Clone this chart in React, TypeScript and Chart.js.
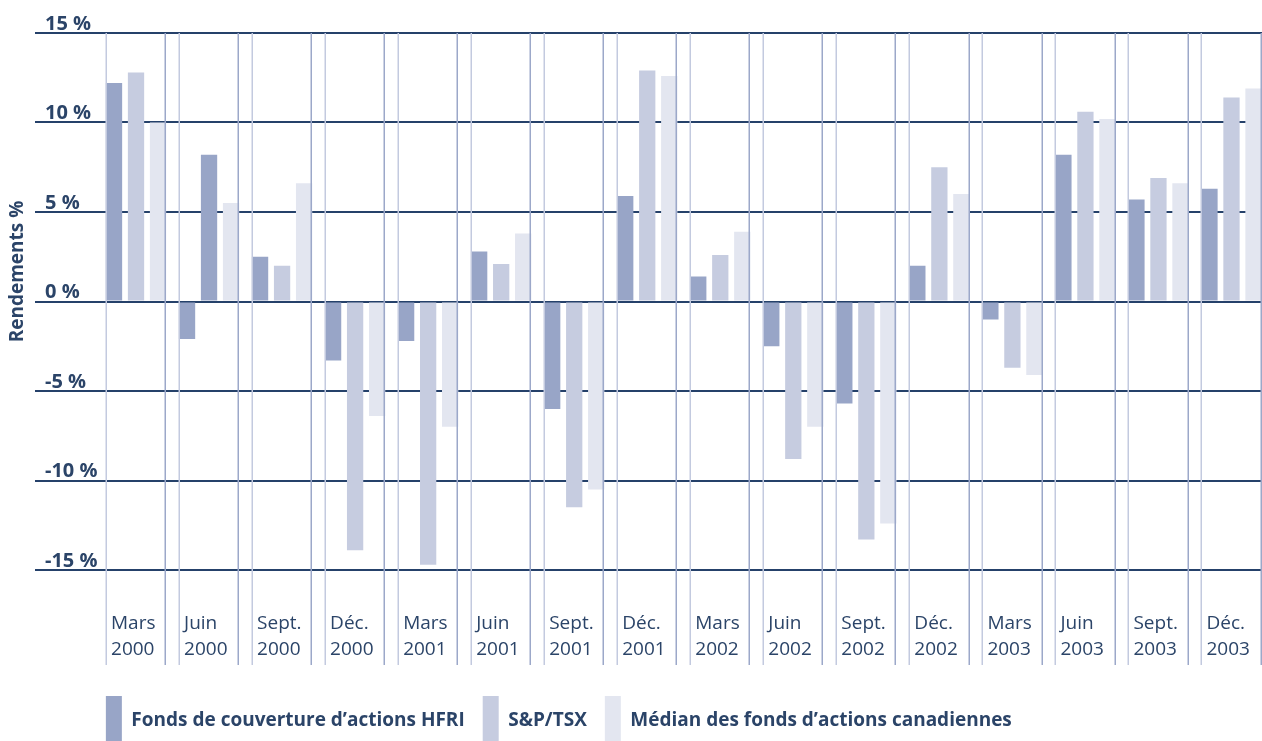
import React, { useEffect, useRef } from 'react';
import { Chart, registerables } from 'chart.js';

Chart.register(...registerables);

// ---- Data ----
const categories: string[][] = [
  ['Mars', '2000'], ['Juin', '2000'], ['Sept.', '2000'], ['Déc.', '2000'],
  ['Mars', '2001'], ['Juin', '2001'], ['Sept.', '2001'], ['Déc.', '2001'],
  ['Mars', '2002'], ['Juin', '2002'], ['Sept.', '2002'], ['Déc.', '2002'],
  ['Mars', '2003'], ['Juin', '2003'], ['Sept.', '2003'], ['Déc.', '2003'],
];
const seriesNames = [
  'Fonds de couverture d’actions HFRI',
  'S&P/TSX',
  'Médian des fonds d’actions canadiennes',
];
const hfri = [12.2, -2.1, 2.5, -3.3, -2.2, 2.8, -6.0, 5.9, 1.4, -2.5, -5.7, 2.0, -1.0, 8.2, 5.7, 6.3];
const sptsx = [12.8, 8.2, 2.0, -13.9, -14.7, 2.1, -11.5, 12.9, 2.6, -8.8, -13.3, 7.5, -3.7, 10.6, 6.9, 11.4];
const median = [10.0, 5.5, 6.6, -6.4, -7.0, 3.8, -10.5, 12.6, 3.9, -7.0, -12.4, 6.0, -4.1, 10.2, 6.6, 11.9];
const yTicks = [-15, -10, -5, 0, 5, 10, 15];
const axisTitle = 'Rendements %';

// ---- Styles ----
const NAVY = '#25416a';
const TEXT = '#2b4468';
const C1 = '#98a5c7';
const C2 = '#c6cce0';
const C3 = '#e3e6f0';
const LINE_LEFT = '#c3cadf';
const LINE_RIGHT = '#9ca8c9';
const FONT = 'Open Sans';
// In the reference the Juin 2000 S&P/TSX bar is drawn in the darker colour
const sptsxColors = sptsx.map((_, i) => (i === 1 ? C1 : C2));

const LEGEND_PAD = 18;

const decorPlugin = {
  id: 'decor',
  beforeDraw(chart: any) {
    const m0 = chart.getDatasetMeta(0);
    const b = m0.data[0];
    if (chart.legend && b) {
      chart.legend.left = b.x - b.width / 2 - LEGEND_PAD;
    }
  },
  afterDatasetsDraw(chart: any) {
    const { ctx, chartArea } = chart;
    const m0 = chart.getDatasetMeta(0);
    const m2 = chart.getDatasetMeta(2);
    ctx.save();
    ctx.lineWidth = 1.5;
    m0.data.forEach((bar: any, i: number) => {
      const last = m2.data[i];
      const l = Math.round(bar.x - bar.width / 2) + 0.25;
      const r = Math.round(last.x + last.width / 2) - 0.75;
      ctx.strokeStyle = LINE_LEFT;
      ctx.beginPath();
      ctx.moveTo(l, chartArea.top);
      ctx.lineTo(l, chartArea.bottom + 95);
      ctx.stroke();
      ctx.strokeStyle = LINE_RIGHT;
      ctx.beginPath();
      ctx.moveTo(r, chartArea.top);
      ctx.lineTo(r, chartArea.bottom + 95);
      ctx.stroke();
    });
    ctx.restore();
  },
  afterDraw(chart: any) {
    const { ctx, chartArea } = chart;
    ctx.save();
    ctx.translate(18, (chartArea.top + chartArea.bottom) / 2 - 30);
    ctx.rotate(-Math.PI / 2);
    ctx.font = `bold 19px "${FONT}"`;
    ctx.fillStyle = TEXT;
    ctx.textAlign = 'center';
    ctx.textBaseline = 'middle';
    ctx.fillText(axisTitle, 0, 0);
    ctx.restore();
  },
};

export default function App() {
  const ref = useRef<HTMLCanvasElement>(null);

  useEffect(() => {
    let chart: Chart | null = null;
    let cancelled = false;
    const fonts = [`bold 20px "${FONT}"`, `19px "${FONT}"`];
    Promise.all(fonts.map((f) => document.fonts.load(f)))
      .catch(() => undefined)
      .then(() => {
        if (cancelled || !ref.current) return;
        chart = new Chart(ref.current, {
          type: 'bar',
          data: {
            labels: categories,
            datasets: [
              { label: seriesNames[0], data: hfri, backgroundColor: C1, borderWidth: 0 },
              { label: seriesNames[1], data: sptsx, backgroundColor: sptsxColors, borderWidth: 0 },
              { label: seriesNames[2], data: median, backgroundColor: C3, borderWidth: 0 },
            ],
          },
          options: {
            animation: false,
            responsive: false,
            devicePixelRatio: 1,
            datasets: { bar: { barPercentage: 0.74, categoryPercentage: 0.904 } },
            layout: { padding: { left: 45, top: 33, right: 0, bottom: 0 } },
            scales: {
              x: {
                afterFit: (s: any) => {
                  s.height = 108;
                  s.paddingLeft = 0;
                  s.paddingRight = 0;
                },
                grid: { display: false, drawTicks: false },
                border: { display: false },
                ticks: {
                  align: 'start',
                  labelOffset: -25,
                  padding: 41,
                  autoSkip: false,
                  maxRotation: 0,
                  color: TEXT,
                  font: { family: FONT, size: 19, lineHeight: 1.37 },
                },
              },
              y: {
                min: -15,
                max: 15,
                z: 1,
                afterFit: (s: any) => { s.width = 54.5; },
                afterBuildTicks: (s: any) => { s.ticks = yTicks.map((v) => ({ value: v })); },
                border: { display: false },
                grid: { color: NAVY, lineWidth: 2, drawTicks: true, tickLength: 64.5, tickColor: NAVY },
                ticks: {
                  crossAlign: 'far',
                  labelOffset: -9,
                  padding: 0,
                  color: TEXT,
                  font: { family: FONT, size: 20, weight: 'bold' },
                  callback: (v: any) => `${v} %`,
                },
              },
            },
            plugins: {
              tooltip: { enabled: false },
              title: { display: false },
              legend: {
                position: 'bottom',
                align: 'start',
                labels: {
                  boxWidth: 16,
                  boxHeight: 49,
                  padding: LEGEND_PAD,
                  color: TEXT,
                  font: { family: FONT, size: 19, weight: 'bold' },
                },
              },
            },
          },
          plugins: [decorPlugin],
        } as any);
      });
    return () => {
      cancelled = true;
      if (chart) chart.destroy();
    };
  }, []);

  return (
    <div
      style={{
        position: 'fixed',
        left: 0,
        top: 0,
        width: 1262,
        height: 741,
        overflow: 'hidden',
        background: '#ffffff',
      }}
    >
      <canvas ref={ref} width={1268} height={755} style={{ display: 'block', width: 1268, height: 755 }} />
    </div>
  );
}
